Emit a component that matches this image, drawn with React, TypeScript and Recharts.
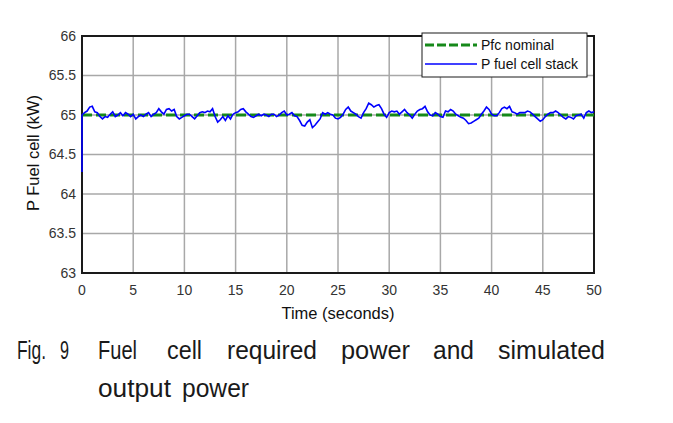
import React from 'react';
import { LineChart, Line, XAxis, YAxis, CartesianGrid, ReferenceArea } from 'recharts';

// Sampling grid of the simulated output (seconds between samples)
const SAMPLE_STEP = 0.25;

// Start-up transient sample at t = 0
const startTime = 0;
const startValue = 64.28;

// P fuel cell stack (kW), one value per sample from t = 0 to t = 50 s
const stackValues = [
  65.0, 65.03, 65.05, 65.1, 65.11, 65.04, 65.03, 64.98, 64.95, 64.98,
  64.97, 65.01, 65.04, 64.98, 65.0, 65.03, 64.99, 65.03, 65.01, 64.98,
  65.01, 64.95, 64.98, 65.0, 64.98, 65.01, 65.03, 64.98, 65.01, 65.03,
  65.08, 65.04, 65.01, 65.07, 65.08, 65.05, 65.07, 64.98, 64.95, 64.97,
  64.99,
  65.01, 65.01, 64.98, 64.95, 64.99, 65.03, 65.04, 65.03, 65.05, 65.04,
  65.08, 64.98, 64.91, 64.94, 64.98, 64.93, 64.99, 64.95, 65.01, 65.03,
  65.04, 65.07, 65.08, 65.04, 65.01, 64.98, 64.97, 64.99, 65.01, 64.99,
  65.01, 65.0, 64.98, 65.01, 65.01, 64.98, 65.0, 65.03, 65.05, 65.0,
  65.01, 65.03, 64.99, 64.98, 64.93, 64.87, 64.86, 64.91, 64.94, 64.84,
  64.87, 64.91, 64.95, 65.03, 65.01, 65.03, 65.01, 65.0, 64.96, 64.95,
  64.97, 65.01, 65.07, 65.1, 65.05, 65.03, 65.01, 64.98, 64.96, 65.03,
  65.08, 65.15, 65.13, 65.1, 65.12, 65.13, 65.08, 65.01, 64.97, 65.03,
  65.05, 65.04, 65.05, 65.01, 65.04, 65.07, 65.03, 65.0, 64.96, 65.01,
  65.05, 65.07, 65.08, 65.11, 65.04, 65.0, 64.99, 65.03, 65.01, 64.98,
  64.97, 65.05, 65.04, 65.07, 65.05, 65.01, 64.99, 64.97, 64.96, 64.93,
  64.89, 64.9, 64.92, 64.94, 64.96, 65.01, 65.05, 65.1, 65.07, 65.01,
  64.99, 64.99, 65.03, 65.08, 65.1, 65.08, 65.11, 65.04, 65.03, 65.01,
  65.03, 65.03, 65.03, 65.05, 65.04, 65.01, 64.98, 64.95, 64.92, 64.94,
  64.98, 65.01, 65.03, 65.03, 65.05, 65.03, 65.0, 64.97, 64.95, 64.98,
  64.97, 64.95, 64.99, 65.0, 65.01, 64.96, 65.03, 65.05, 65.03, 65.04,
];

// Pfc nominal (kW)
const nominalTimes = [0, 50];
const nominalValues = [65, 65];

const xTicks = [0, 5, 10, 15, 20, 25, 30, 35, 40, 45, 50];
const yTicks = [63, 63.5, 64, 64.5, 65, 65.5, 66];

const seriesNames = ['Pfc nominal', 'P fuel cell stack'];
const xTitle = 'Time (seconds)';
const yTitle = 'P Fuel cell (kW)';

const captionLine1 = [
  { w: 'Fig.', x0: 17, x1: 46 },
  { w: '9', x0: 60, x1: 69 },
  { w: 'Fuel', x0: 98, x1: 137 },
  { w: 'cell', x0: 167, x1: 202 },
  { w: 'required', x0: 227, x1: 317 },
  { w: 'power', x0: 341, x1: 410 },
  { w: 'and', x0: 433, x1: 474 },
  { w: 'simulated', x0: 498, x1: 605 },
];
const captionLine2 = [
  { w: 'output', x0: 98, x1: 171 },
  { w: 'power', x0: 182, x1: 249 },
];

const stackData = [{ t: startTime, v: startValue }].concat(
  stackValues.map((v, i) => ({ t: i * SAMPLE_STEP, v }))
);
const nominalData = nominalTimes.map((t, i) => ({ t, v: nominalValues[i] }));

const FONT = '"Liberation Sans", Arial, sans-serif';
const GREEN = '#16891a';
const BLUE = '#0000ff';

export default function App() {
  return (
    <div style={{ position: 'absolute', left: 0, top: 0, width: 673, height: 423, background: '#fff' }}>
      <LineChart width={673} height={330} margin={{ top: 36, right: 79, bottom: 0, left: 0 }}>
        <CartesianGrid stroke="#a8a8a8" strokeWidth={1.5} />
        <XAxis
          type="number"
          dataKey="t"
          domain={[0, 50]}
          ticks={xTicks}
          height={57}
          axisLine={false}
          tickLine={false}
          tickSize={0}
          tickMargin={12}
          tick={{ fontSize: 14, fill: '#333', fontFamily: FONT }}
          allowDuplicatedCategory={false}
        />
        <YAxis
          type="number"
          domain={[63, 66]}
          ticks={yTicks}
          width={82}
          axisLine={false}
          tickLine={false}
          tickSize={0}
          tickMargin={6}
          tick={{ fontSize: 14, fill: '#333', fontFamily: FONT }}
        />
        <Line
          data={nominalData}
          dataKey="v"
          stroke={GREEN}
          strokeWidth={3}
          strokeDasharray="10 4"
          dot={false}
          isAnimationActive={false}
          name={seriesNames[0]}
        />
        <Line
          data={stackData}
          dataKey="v"
          stroke={BLUE}
          strokeWidth={1.6}
          dot={false}
          isAnimationActive={false}
          name={seriesNames[1]}
        />
        <ReferenceArea x1={0} x2={50} y1={63} y2={66} fill="none" stroke="#1a1a1a" strokeWidth={2} ifOverflow="visible" />
      </LineChart>
      <svg width={673} height={423} style={{ position: 'absolute', left: 0, top: 0, pointerEvents: 'none' }}>
        <g fontFamily={FONT}>
          <rect x={422} y={33} width={165} height={44} fill="#fff" stroke="#1a1a1a" strokeWidth={1} />
          <line x1={425} x2={477} y1={45} y2={45} stroke={GREEN} strokeWidth={3} strokeDasharray="9 3" />
          <text x={481} y={50} fontSize={14} fill="#111">{seriesNames[0]}</text>
          <line x1={425} x2={477} y1={64} y2={64} stroke={BLUE} strokeWidth={1.6} />
          <text x={481} y={69} fontSize={14} fill="#111">{seriesNames[1]}</text>
          <text x={338} y={319} fontSize={16.5} fill="#111" textAnchor="middle">{xTitle}</text>
          <text
            x={39}
            y={153}
            fontSize={16.5}
            fill="#111"
            textAnchor="middle"
            transform="rotate(-90 39 153)"
          >
            {yTitle}
          </text>
        </g>
        <g fontFamily={FONT} fontSize={25} fill="#1a1a1a">
          {captionLine1.map((c) => (
            <text key={'a' + c.w} x={c.x0} y={359} textLength={c.x1 - c.x0} lengthAdjust="spacingAndGlyphs">
              {c.w}
            </text>
          ))}
          {captionLine2.map((c) => (
            <text key={'b' + c.w} x={c.x0} y={397} textLength={c.x1 - c.x0} lengthAdjust="spacingAndGlyphs">
              {c.w}
            </text>
          ))}
        </g>
      </svg>
    </div>
  );
}
